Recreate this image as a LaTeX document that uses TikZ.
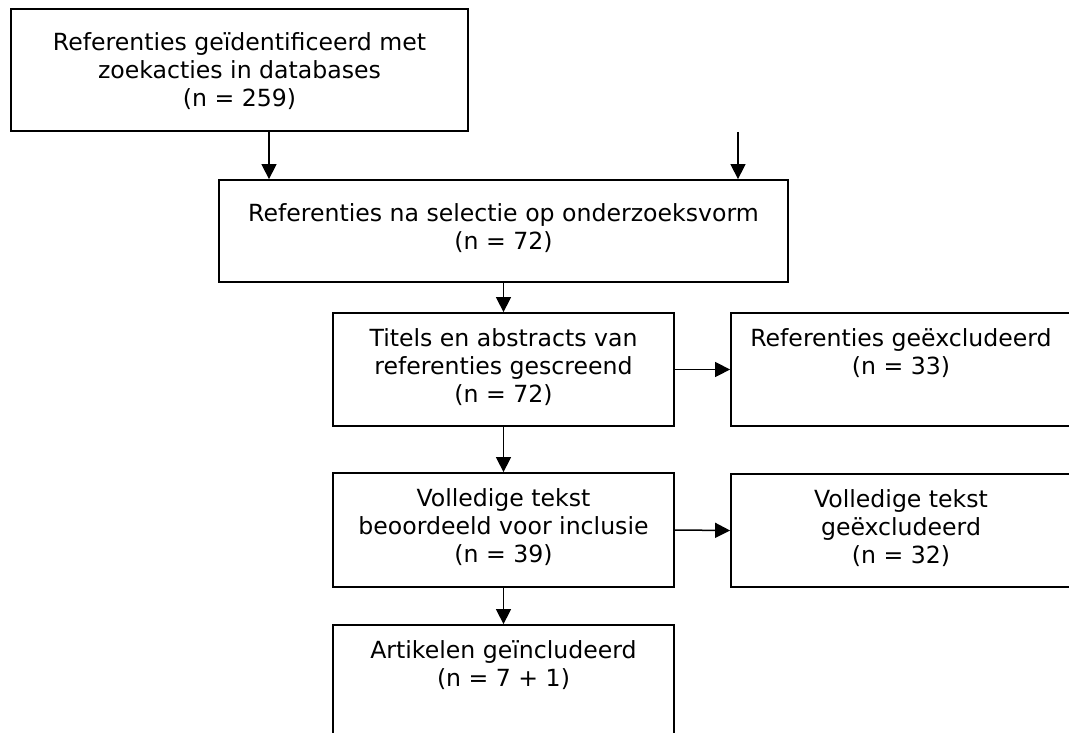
\documentclass[tikz,border=0pt]{standalone}
\usepackage{fontspec}
\setmainfont{DejaVu Sans}
\usetikzlibrary{arrows.meta}
\tikzset{
  box/.style={draw=black, line width=1.8pt, fill=none, inner sep=0pt},
  txt/.style={anchor=north, align=center, inner sep=0pt,
    font=\fontsize{23.6pt}{28pt}\selectfont},
  arr/.style={line width=1.5pt, -{Triangle[length=15pt,width=15pt]}}
}
\begin{document}
\begin{tikzpicture}[x=1pt,y=-1pt]
\useasboundingbox (0,0) rectangle (1069,733);
% boxes
\node[box, minimum width=457pt, minimum height=122pt] (b1) at (239.5,70) {};
\node[box, minimum width=569pt, minimum height=102pt] (b2) at (503.5,231) {};
\node[box, minimum width=341pt, minimum height=113pt] (b3) at (503.5,369.5) {};
\node[box, minimum width=340pt, minimum height=113pt] (b4) at (901,369.5) {};
\node[box, minimum width=341pt, minimum height=114pt] (b5) at (503.5,530) {};
\node[box, minimum width=340pt, minimum height=113pt] (b6) at (901,530.5) {};
\node[box, minimum width=341pt, minimum height=125pt] (b7) at (503.5,687.5) {};
% texts
\node[txt] (t1) at ([yshift=-23pt]b1.north) {\strut Referenties geïdentificeerd met\\zoekacties in databases\\(n = 259)};
\node[txt] (t2) at ([yshift=-22.5pt]b2.north) {\strut Referenties na selectie op onderzoeksvorm\\(n = 72)};
\node[txt] (t3) at ([yshift=-14.5pt]b3.north) {\strut Titels en abstracts van\\referenties gescreend\\(n = 72)};
\node[txt] (t4) at ([yshift=-14.5pt]b4.north) {\strut Referenties geëxcludeerd\\(n = 33)};
\node[txt] (t5) at ([yshift=-15pt]b5.north) {\strut Volledige tekst\\beoordeeld voor inclusie\\(n = 39)};
\node[txt] (t6) at ([yshift=-15pt]b6.north) {\strut Volledige tekst\\geëxcludeerd\\(n = 32)};
\node[txt] (t7) at ([yshift=-14.5pt]b7.north) {\strut Artikelen geïncludeerd\\(n = 7 + 1)};
% connectors
\coordinate (a1) at (269,0);
\coordinate (free) at (738,132);
\draw[arr] (b1.south -| a1) -- (b2.north -| a1);
\draw[arr] (free) -- (free |- b2.north);
\draw[arr] (b2.south) -- (b3.north);
\draw[arr] (b3.east) -- (b4.west);
\draw[arr] (b3.south) -- (b5.north);
\draw[arr] (b5.east) -- (b6.west);
\draw[arr] (b5.south) -- (b7.north);
\end{tikzpicture}
\end{document}
